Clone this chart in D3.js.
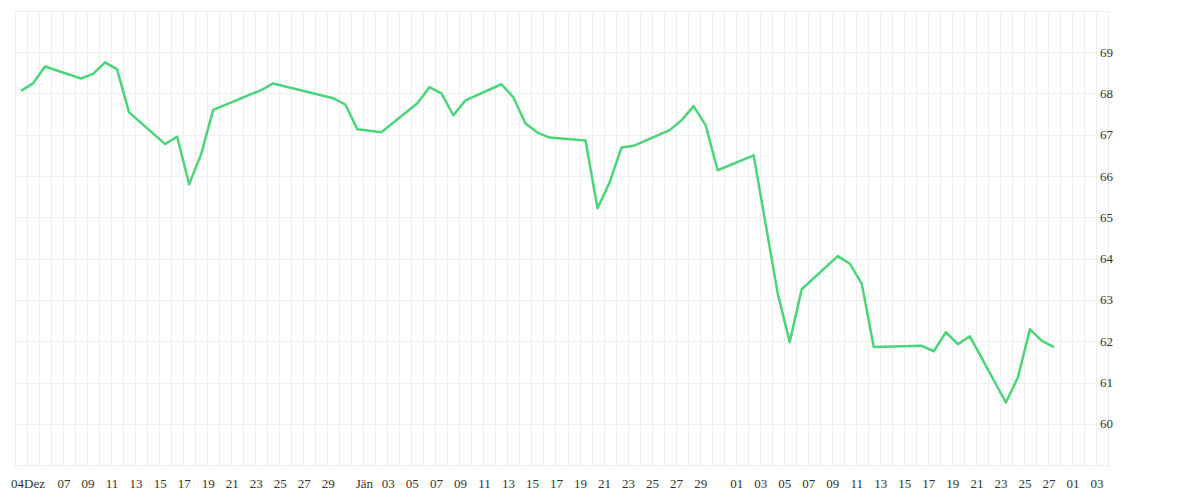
<!DOCTYPE html>
<html><head><meta charset="utf-8">
<script src="https://cdn.jsdelivr.net/npm/d3@7"></script>
<style>body{margin:0;background:#fff}</style></head>
<body><svg id="c" width="1200" height="500"></svg>
<script>
const dates = ["2024-12-04","2024-12-05","2024-12-06","2024-12-09","2024-12-10","2024-12-11","2024-12-12","2024-12-13","2024-12-16","2024-12-17","2024-12-18","2024-12-19","2024-12-20","2024-12-24","2024-12-25","2024-12-30","2024-12-31","2025-01-01","2025-01-03","2025-01-06","2025-01-07","2025-01-08","2025-01-09","2025-01-10","2025-01-13","2025-01-14","2025-01-15","2025-01-16","2025-01-17","2025-01-20","2025-01-21","2025-01-22","2025-01-23","2025-01-24","2025-01-27","2025-01-28","2025-01-29","2025-01-30","2025-01-31","2025-02-03","2025-02-05","2025-02-06","2025-02-07","2025-02-10","2025-02-11","2025-02-12","2025-02-13","2025-02-17","2025-02-18","2025-02-19","2025-02-20","2025-02-21","2025-02-24","2025-02-25","2025-02-26","2025-02-27","2025-02-28"];
const values = [68.06,68.24,68.65,68.36,68.47,68.75,68.58,67.54,66.77,66.95,65.80,66.53,67.60,68.08,68.24,67.88,67.73,67.13,67.06,67.76,68.15,68.00,67.47,67.83,68.22,67.90,67.27,67.05,66.93,66.86,65.22,65.84,66.69,66.73,67.11,67.35,67.69,67.23,66.14,66.50,63.16,61.98,63.26,64.06,63.88,63.39,61.86,61.89,61.76,62.22,61.93,62.12,60.52,61.13,62.29,62.01,61.86];
const yTicks = [60,61,62,63,64,65,66,67,68,69];
const xTickDates = ["2024-12-04","2024-12-07","2024-12-09","2024-12-11","2024-12-13","2024-12-15","2024-12-17","2024-12-19","2024-12-21","2024-12-23","2024-12-25","2024-12-27","2024-12-29","2025-01-01","2025-01-03","2025-01-05","2025-01-07","2025-01-09","2025-01-11","2025-01-13","2025-01-15","2025-01-17","2025-01-19","2025-01-21","2025-01-23","2025-01-25","2025-01-27","2025-01-29","2025-02-01","2025-02-03","2025-02-05","2025-02-07","2025-02-09","2025-02-11","2025-02-13","2025-02-15","2025-02-17","2025-02-19","2025-02-21","2025-02-23","2025-02-25","2025-02-27","2025-03-01","2025-03-03"];
const xTickLabels = ["04Dez","07","09","11","13","15","17","19","21","23","25","27","29","Jän","03","05","07","09","11","13","15","17","19","21","23","25","27","29","01","03","05","07","09","11","13","15","17","19","21","23","25","27","01","03"];

const svg = d3.select("#c");
const parse = d3.timeParse("%Y-%m-%d");
const x = d3.scaleTime().domain([parse("2024-12-03"), parse("2025-03-04")]).range([16, 1109]);
const y = d3.scaleLinear().domain([59, 70]).range([465.3, 10.7]);
const g = svg.append("g");
const days = d3.timeDay.range(parse("2024-12-03"), d3.timeDay.offset(parse("2025-03-04"),1));
g.selectAll("line.v").data(days).join("line")
  .attr("x1", d => Math.round(x(d)) - 0.5).attr("x2", d => Math.round(x(d)) - 0.5)
  .attr("y1", 11).attr("y2", 467).attr("stroke", "#efefef").attr("stroke-width", 1);
g.selectAll("line.h").data(d3.range(59, 71)).join("line")
  .attr("x1", 15).attr("x2", 1110)
  .attr("y1", d => Math.round(y(d)) + 0.5).attr("y2", d => Math.round(y(d)) + 0.5)
  .attr("stroke", "#efefef");
svg.selectAll("text.y").data(yTicks).join("text")
  .attr("x", 1100).attr("y", d => y(d) + 4.5)
  .attr("font-family", "Liberation Serif").attr("font-size", 13).attr("fill", "#333")
  .text(d => d);
svg.selectAll("text.x").data(xTickDates).join("text")
  .attr("x", d => x(parse(d))).attr("y", 488).attr("text-anchor", "middle")
  .attr("font-family", "Liberation Serif").attr("font-size", 13).attr("fill", "#333")
  .text((d, i) => xTickLabels[i]);
const pts = dates.map((d, i) => ({t: d3.timeHour.offset(parse(d), -14), v: values[i]}));
svg.append("path").datum(pts)
  .attr("d", d3.line().x(d => x(d.t)).y(d => y(d.v)))
  .attr("fill", "none").attr("stroke", "#4cd47a").attr("stroke-width", 2.5)
  .attr("stroke-linejoin", "round");
</script></body></html>
